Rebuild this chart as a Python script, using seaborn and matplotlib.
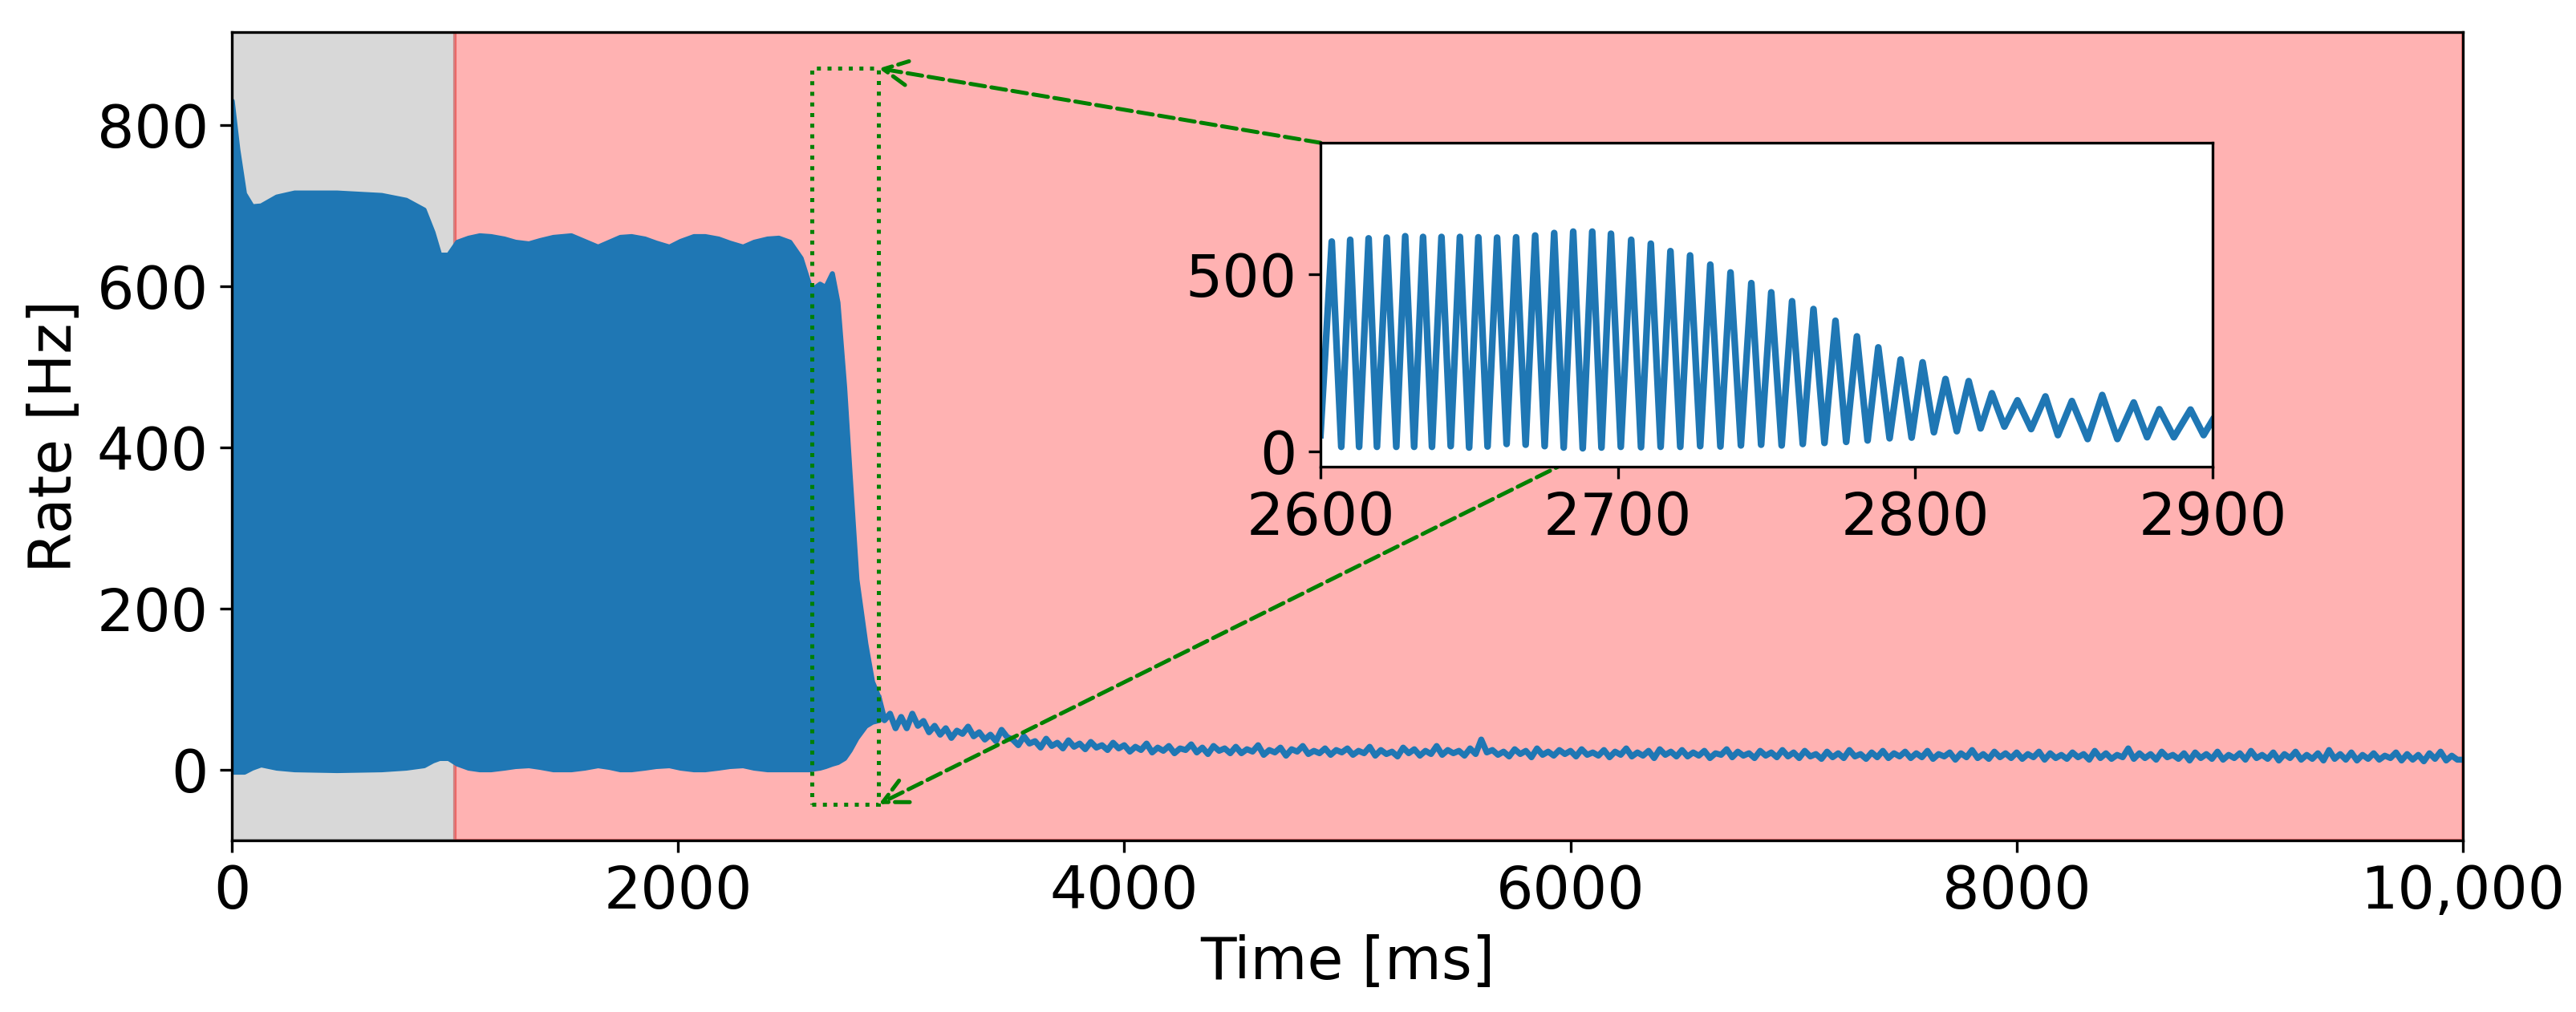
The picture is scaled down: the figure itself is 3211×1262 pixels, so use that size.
import matplotlib
matplotlib.use("Agg")
import matplotlib.pyplot as plt
import numpy as np
import seaborn as sns
from matplotlib.patches import ConnectionPatch, Rectangle

# * --- data ---
# envelope of the fast oscillation (0 - 2900 ms), drawn as a filled band
band_t = [0, 25, 55, 90, 130, 200, 280, 470, 670, 780, 860, 900, 930, 970, 1010,
          1060, 1110, 1160, 1220, 1270, 1330, 1380, 1440, 1520, 1580, 1640, 1690,
          1740, 1790, 1850, 1900, 1960, 2010, 2070, 2120, 2180, 2230, 2290, 2340,
          2400, 2450, 2500, 2550, 2590, 2610, 2635, 2660, 2690, 2715, 2745, 2770,
          2800, 2840, 2870, 2900]
band_hi = [830, 770, 715, 699, 700, 711, 716, 716, 713, 707, 695, 667, 639, 639, 655,
           660, 663, 662, 659, 655, 653, 657, 661, 663, 656, 649, 655,
           661, 662, 659, 654, 649, 656, 662, 662, 659, 654, 649, 655,
           659, 660, 655, 635, 600, 598, 603, 599, 616, 580, 475, 365,
           237, 157, 110, 90]
band_lo = [-2, -2, -2, 3, 7, 3, 1, 0, 1, 3, 6, 12, 15, 15, 8,
           3, 1, 1, 3, 5, 6, 4, 1, 1, 3, 6, 4,
           1, 1, 3, 5, 6, 3, 1, 1, 3, 5, 6, 3,
           1, 1, 1, 1, 1, 2, 3, 5, 8, 10, 15, 25,
           40, 55, 60, 62]

# asynchronous tail after the oscillation dies out, every 25 ms from 2900 ms
tail_rate = [89, 62, 70, 52,
             66, 52, 70, 55, 61, 47, 55, 44, 52, 40, 49, 45, 54, 42, 47, 38, 44, 36, 50, 41,
             38, 31, 42, 33, 36, 28, 39, 30, 34, 27, 37, 29, 33, 26, 35, 28, 31, 25, 34, 27,
             31, 23, 29, 25, 33, 22, 28, 24, 30, 21, 27, 25, 32, 22, 28, 20, 30, 24, 27, 21,
             29, 21, 26, 23, 31, 19, 25, 22, 28, 18, 26, 23, 30, 20, 24, 21, 27, 19, 25, 22,
             27, 19, 24, 21, 29, 18, 25, 20, 23, 17, 28, 21, 26, 18, 24, 20, 30, 19, 25, 21,
             24, 18, 27, 20, 38, 22, 25, 19, 23, 17, 26, 20, 24, 16, 27, 19, 23, 18, 25, 20,
             24, 17, 26, 19, 22, 18, 25, 16, 23, 19, 27, 17, 22, 18, 24, 15, 26, 19, 23, 17,
             25, 17, 22, 18, 24, 15, 21, 19, 26, 16, 23, 18, 21, 15, 24, 18, 22, 16, 25, 17,
             22, 15, 24, 17, 20, 14, 23, 16, 21, 15, 25, 17, 20, 14, 22, 16, 24, 15, 21, 17,
             23, 15, 21, 16, 24, 14, 20, 17, 22, 13, 21, 16, 25, 15, 20, 14, 23, 16, 21, 15,
             22, 14, 20, 16, 23, 13, 21, 15, 19, 14, 22, 16, 20, 13, 24, 15, 21, 14, 19, 16,
             27, 14, 21, 15, 20, 13, 23, 16, 19, 14, 21, 12, 22, 15, 20, 14, 23, 13, 19, 15,
             21, 13, 24, 15, 19, 14, 22, 12, 20, 15, 23, 13, 19, 14, 21, 12, 25, 14, 20, 13,
             22, 12, 19, 14, 21, 13, 18, 15, 22, 12, 20, 13, 19, 11, 21, 14, 23, 12, 18, 13,
             13]
tail_t = np.arange(len(tail_rate)) * 25 + 2900

# zoomed window: alternating troughs and peaks
inset_t = [2600, 2603.8, 2607, 2610.0, 2613, 2616.2, 2619, 2622.3, 2625.5, 2628.5,
           2631.5, 2634.5, 2637.5, 2640.7, 2643.8, 2646.9, 2650, 2653.1, 2656.2, 2659.4,
           2662.6, 2665.8, 2669, 2672.2, 2675.4, 2678.6, 2681.8, 2685.0, 2688.2, 2691.4,
           2694.5, 2697.7, 2701, 2704.5, 2707.8, 2711.1, 2714.4, 2717.7, 2721, 2724.3,
           2727.7, 2731.1, 2734.5, 2737.9, 2741.4, 2744.9, 2748.2, 2751.6, 2755.1, 2758.6,
           2762.2, 2765.8, 2769.5, 2773.2, 2776.8, 2780.4, 2784, 2787.6, 2791.4, 2795.1,
           2798.8, 2802.5, 2806.3, 2810.2, 2814, 2818.0, 2822, 2825.8, 2830, 2834.4,
           2839, 2843.8, 2848, 2852.7, 2858, 2862.9, 2868, 2873.5, 2878, 2882.1,
           2887, 2892.6, 2897, 2900]
inset_rate = [47, 592, 14, 597, 14, 601, 14, 603, 14, 607,
              14, 605, 14, 605, 16, 605, 12, 604, 15, 603,
              22, 604, 20, 609, 16, 616, 12, 620, 10, 620,
              12, 614, 14, 597, 13, 586, 14, 565, 14, 553,
              16, 527, 15, 505, 18, 475, 20, 449, 18, 424,
              22, 402, 25, 369, 28, 325, 32, 294, 38, 260,
              40, 252, 55, 205, 58, 199, 66, 165, 71, 145,
              64, 156, 47, 143, 36, 160, 36, 139, 41, 120,
              41, 119, 47, 89]

zoom_x = (2600, 2900)
zoom_y = (-42, 870)
stim_on = 1000
t_end = 10000

x_ticks = [0, 2000, 4000, 6000, 8000, 10000]
x_ticklabels = ["0", "2000", "4000", "6000", "8000", "10,000"]

FS = 17.5
line_color = "#1f77b4"

# * --- figure ---
fig = plt.figure(figsize=(3211 / 300, 1262 / 300), dpi=300)
ax = fig.add_axes([0.0900, 0.1696, 0.8661, 0.7987])

ax.axvspan(0, stim_on, color="gray", alpha=0.3, zorder=0)
ax.axvspan(stim_on, t_end, color="red", alpha=0.3, zorder=0)

ax.fill_between(band_t, band_lo, band_hi, color=line_color, lw=1.5, zorder=2)
sns.lineplot(x=tail_t, y=tail_rate, ax=ax, color=line_color, lw=1.8,
             estimator=None, zorder=2)

ax.set_xlim(0, t_end)
ax.set_ylim(-87, 915)
ax.set_xticks(x_ticks)
ax.set_xticklabels(x_ticklabels)
ax.set_yticks([0, 200, 400, 600, 800])
ax.tick_params(labelsize=FS)
ax.set_xlabel("Time [ms]", fontsize=FS)
ax.set_ylabel("Rate [Hz]", fontsize=FS)

# dotted box marking the zoomed window
ax.add_patch(Rectangle((zoom_x[0], zoom_y[0]), zoom_x[1] - zoom_x[0],
                       zoom_y[1] - zoom_y[0], fill=False, ls=":", lw=1.2,
                       edgecolor="green", zorder=3))

# inset
axins = fig.add_axes([0.5126, 0.5388, 0.3463, 0.3201])
sns.lineplot(x=inset_t, y=inset_rate, ax=axins, color=line_color, lw=2,
             estimator=None)
axins.set_xlim(*zoom_x)
axins.set_ylim(*zoom_y)
axins.set_xticks([2600, 2700, 2800, 2900])
axins.set_yticks([0, 500])
axins.tick_params(labelsize=FS)
axins.set_xlabel("")
axins.set_ylabel("")

# dashed arrows from the inset back to the box
for xyA, coordsA, xyB in [((0, 1), axins.transAxes, (zoom_x[1], zoom_y[1])),
                          ((2690, 0), axins.transData, (zoom_x[1], zoom_y[0]))]:
    con = ConnectionPatch(xyA=xyA, coordsA=coordsA, xyB=xyB, coordsB=ax.transData,
                          arrowstyle="->", ls="--", lw=1.2, color="green",
                          mutation_scale=18, zorder=4)
    ax.add_artist(con)

fig.savefig("out.png", dpi=300)
